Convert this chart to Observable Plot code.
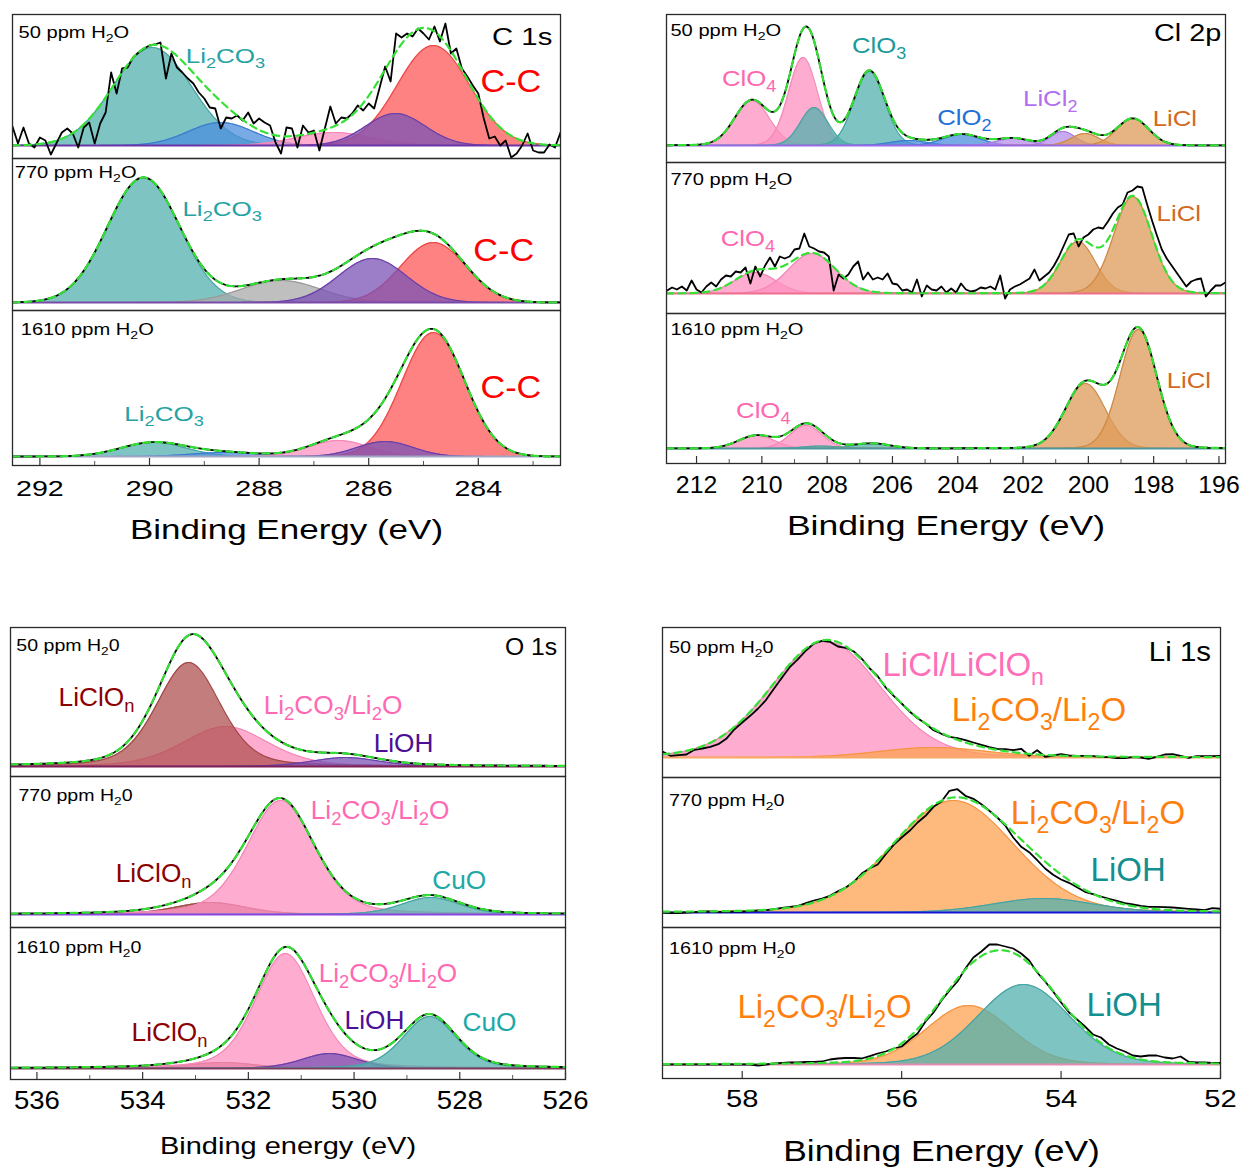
<!DOCTYPE html>
<html><head><meta charset="utf-8">
<script src="https://cdn.jsdelivr.net/npm/d3@7"></script>
<script src="https://cdn.jsdelivr.net/npm/@observablehq/plot@0.6"></script>
<style>
body{margin:0;background:#fff;font-family:"Liberation Sans",Arial,sans-serif}
#fig{position:relative;width:1253px;height:1168px;overflow:hidden;background:#fff}
</style></head><body><div id="fig"></div>
<script>
// ======================= DATA =======================
// Peak tables: [sample index, component, centre (eV), height (a.u.), FWHM (eV)]
// ---- C 1s ----
const C1S_RANGE = [292.5, 282.5];
const C1S_TICKS = [292, 290, 288, 286, 284];
const C1S_MINOR = [291, 289, 287, 285, 283];
const C1S_BACKGROUND = [13, 8, 9];
const C1S_PEAKS = [
  [0, "Li2CO3", 289.95, 98, 1.68], [0, "O-C=O", 288.7, 23, 1.4], [0, "C=O", 286.64, 13, 1.6],
  [0, "C-C", 284.82, 100, 1.55], [0, "C-O", 285.51, 32, 1.28],
  [1, "Li2CO3", 290.11, 125, 1.55], [1, "C-O-C", 287.6, 22, 1.7], [1, "C-C", 284.82, 60, 1.4], [1, "C-O", 285.93, 44, 1.46],
  [2, "Li2CO3", 289.93, 14, 1.4], [2, "O-C=O", 288.6, 4, 1.5], [2, "C=O", 286.55, 16, 1.3],
  [2, "C-C", 284.82, 124, 1.35], [2, "C-O", 285.7, 15, 1.2]
];
// measured counts, 50 ppm, from 292.5 eV in 0.1 eV steps
const C1S_50_COUNTS = [
  19, 2, 18, 2, -2, 8, 5, -9, 2, 13,
  17, 12, -2, 18, 23, 2, 22, 33, 73, 52,
  77, 78, 88, 93, 97, 100, 101, 103, 67, 92,
  78, 73, 67, 62, 53, 47, 38, 37, 17, 28,
  27, 30, 25, 33, 22, 27, 23, 20, 3, -8,
  18, 17, -2, 20, 13, 15, -5, 17, 39, 22,
  28, 27, 32, 40, 35, 42, 37, 58, 79, 64,
  112, 108, 112, 109, 117, 112, 106, 119, 104, 122,
  92, 97, 77, 69, 60, 52, 27, 7, 9, 0,
  5, -12, -8, 0, 12, -5, -7, -7, 1, -2, 13
];
const C1S_LABELS = [ // [sample, text, eV, height, anchor, kind]
  [0, "50 ppm H_2O", 292.39, 126, "start", "sample"],
  [0, "Li_2CO_3", 289.34, 102, "start", "Li2CO3"],
  [0, "C-C", 283.96, 77, "start", "C-C"],
  [0, "C 1s", 282.65, 121, "end", "panel"],
  [1, "770 ppm H_2O", 292.46, 138, "start", "sample"],
  [1, "Li_2CO_3", 289.4, 101, "start", "Li2CO3"],
  [1, "C-C", 284.09, 60, "start", "C-C"],
  [2, "1610 ppm H_2O", 292.35, 136, "start", "sample"],
  [2, "Li_2CO_3", 290.46, 51, "start", "Li2CO3"],
  [2, "C-C", 283.96, 78, "start", "C-C"]
];

// ---- Cl 2p ----
const CL2P_RANGE = [212.92, 195.8];
const CL2P_TICKS = [212, 210, 208, 206, 204, 202, 200, 198, 196];
const CL2P_MINOR = [211, 209, 207, 205, 203, 201, 199, 197];
const CL2P_BACKGROUND = [17, 20, 15];
const CL2P_PEAKS = [
  [0, "ClO4", 210.3, 45, 1.25], [0, "ClO4", 208.74, 88, 1.05], [0, "ClO3", 208.4, 38, 1.0],
  [0, "ClO3", 206.71, 74, 1.1], [0, "ClO2", 205.5, 5, 1.35], [0, "ClO2", 203.88, 11, 1.35],
  [0, "LiCl2", 202.3, 7, 1.2], [0, "LiCl2", 200.78, 14, 0.9], [0, "LiCl", 200.1, 12, 1.0], [0, "LiCl", 198.64, 27, 1.15],
  [1, "ClO4", 210.2, 21, 1.5], [1, "ClO4", 208.46, 40, 1.7], [1, "LiCl", 200.32, 52, 1.26], [1, "LiCl", 198.64, 97, 1.38],
  [2, "ClO4", 210.16, 13, 1.3], [2, "ClO4", 208.65, 23, 1.15], [2, "ClO3", 208.2, 2.5, 1.3], [2, "ClO3", 206.63, 5, 1.3],
  [2, "LiCl", 200.09, 65, 1.44], [2, "LiCl", 198.47, 119, 1.33]
];
// measured counts, 770 ppm, from 212.9 eV in 0.15 eV steps
const CL2P_770_COUNTS = [
  3, 6, 4, 7, 3, 13, 4, 1, 7, 11,
  7, 14, 18, 17, 22, 21, 26, 10, 27, 17,
  28, 36, 27, 37, 35, 37, 44, 45, 60, 47,
  45, 42, 41, 37, 3, 19, 15, 19, 27, 32,
  14, 21, 14, 16, 14, 20, 10, 9, 3, 4,
  1, 14, -3, 8, 4, 3, 7, 1, 5, 1,
  10, 4, 2, 3, 6, 5, 7, 4, 18, -5,
  4, 7, 9, 12, 15, 24, 13, 17, 21, 28,
  37, 48, 59, 60, 47, 56, 59, 64, 66, 65,
  72, 80, 86, 89, 101, 103, 107, 106, 89, 73,
  58, 44, 35, 28, 21, 14, 7, 12, 14, 15,
  -3, 3, 8, 8, 11
];
const CL2P_LABELS = [
  [0, "50 ppm H_2O", 212.8, 132, "start", "sample"],
  [0, "ClO_4", 211.22, 84, "start", "ClO4"],
  [0, "ClO_3", 207.24, 117, "start", "ClO3"],
  [0, "ClO_2", 204.63, 45, "start", "ClO2"],
  [0, "LiCl_2", 202.0, 64, "start", "LiCl2"],
  [0, "LiCl", 198.03, 44, "start", "LiCl"],
  [0, "Cl 2p", 195.93, 129, "end", "panel"],
  [1, "770 ppm H_2O", 212.8, 134, "start", "sample"],
  [1, "ClO_4", 211.26, 75, "start", "ClO4"],
  [1, "LiCl", 197.91, 100, "start", "LiCl"],
  [2, "1610 ppm H_2O", 212.8, 134, "start", "sample"],
  [2, "ClO_4", 210.79, 53, "start", "ClO4"],
  [2, "LiCl", 197.6, 83, "start", "LiCl"]
];

// ---- O 1s ----
const O1S_RANGE = [536.5, 526];
const O1S_TICKS = [536, 534, 532, 530, 528, 526];
const O1S_MINOR = [535, 533, 531, 529, 527];
const O1S_BACKGROUND = [10, 13, 11];
const O1S_PEAKS = [
  [0, "Li2CO3/Li2O", 532.43, 40, 1.9], [0, "LiClOn", 533.13, 104, 1.42], [0, "LiOH", 530.16, 9, 1.5],
  [1, "LiClOn", 532.72, 12, 1.6], [1, "Li2CO3/Li2O", 531.39, 114, 1.51], [1, "CuO", 528.55, 17, 1.3],
  [2, "LiClOn", 532.49, 6, 1.5], [2, "Li2CO3/Li2O", 531.3, 115, 1.33], [2, "LiOH", 530.46, 15, 1.25], [2, "CuO", 528.57, 52, 1.19]
];
const O1S_LABELS = [
  [0, "50 ppm H_20", 536.39, 131, "start", "sample"],
  [0, "LiClO_n", 535.59, 79, "start", "LiClOn"],
  [0, "Li_2CO_3/Li_2O", 531.71, 71, "start", "Li2CO3/Li2O"],
  [0, "LiOH", 529.63, 33, "start", "LiOH"],
  [0, "O 1s", 526.16, 129, "end", "panel"],
  [1, "770 ppm H_20", 536.35, 132, "start", "sample"],
  [1, "LiClO_n", 534.51, 54, "start", "LiClOn"],
  [1, "Li_2CO_3/Li_2O", 530.82, 117, "start", "Li2CO3/Li2O"],
  [1, "CuO", 528.52, 47, "start", "CuO"],
  [2, "1610 ppm H_20", 536.39, 132, "start", "sample"],
  [2, "LiClO_n", 534.21, 47, "start", "LiClOn"],
  [2, "Li_2CO_3/Li_2O", 530.67, 106, "start", "Li2CO3/Li2O"],
  [2, "LiOH", 530.18, 59, "start", "LiOH"],
  [2, "CuO", 527.95, 57, "start", "CuO"]
];

// ---- Li 1s ----
const LI1S_RANGE = [59, 52];
const LI1S_TICKS = [58, 56, 54, 52];
const LI1S_MINOR = [];
const LI1S_BACKGROUND = [20, 15, 14];
const LI1S_PEAKS = [
  [0, "LiCl/LiClOn", 56.95, 116, 1.63], [0, "Li2CO3/Li2O", 55.6, 10, 1.6],
  [1, "Li2CO3/Li2O", 55.35, 112, 1.8], [1, "LiOH", 54.22, 14, 1.5],
  [2, "Li2CO3/Li2O", 55.16, 59, 1.25], [2, "LiOH", 54.47, 80, 1.36]
];
// measured counts, from 59 eV in 0.1 eV steps
const LI1S_50_COUNTS = [
  6, 1.7, 2.3, 3, 7.7, 9, 10.7, 13.3, 18.7, 28,
  35, 41.7, 49, 57.7, 69, 80, 90.7, 98.3, 107, 114,
  116.7, 115.7, 111, 109.7, 106, 98.7, 89, 81.3, 70, 61.7,
  54, 46, 39.3, 34, 27.3, 23.7, 20.7, 19.3, 17.3, 15,
  12.7, 10.3, 8.7, 8.3, 7.3, 8.7, 1.7, 7.3, 0.7, 2,
  3.3, 2, 1.7, 1.7, 1.3, 0.7, 0.3, -0.7, -0.7, 0.3,
  0, -1.3, 0.7, 3, 3.3, 1.7, -0.3, 1.3, 1.3, 1.3,
  1.7
];
const LI1S_770_COUNTS = [
  0, -0.7, -0.7, 0, 0.3, 1, 1, 0.7, 0.7, 1,
  1, 1.3, 2, 2.3, 3.3, 4.7, 5.7, 6.7, 9.3, 12,
  14, 16.7, 21.3, 25, 30.7, 39, 44.3, 48, 58.3, 67.7,
  75, 81.7, 90, 96.7, 105.7, 111, 121.7, 123.3, 116.7, 113.7,
  108.3, 101.7, 95, 87, 75, 65.7, 60.3, 52.3, 44, 37.7,
  33, 29.7, 25.3, 20.7, 18.3, 16, 13.7, 11.7, 9.3, 8,
  6.7, 5.7, 5.7, 5.3, 5, 4.3, 3.7, 3, 2.3, 4.3,
  3.7
];
const LI1S_1610_COUNTS = [
  0, 0, 0, 0, 0, 0, 0, 0, 0, 0,
  0, 0, -1, 0, 1, 1.5, 2, 2, 2.5, 2.7,
  3, 5, 6, 6.5, 6.7, 6, 8.3, 11, 13, 16,
  18, 25, 31, 43, 52, 64, 74, 83, 96, 107,
  113, 120, 120, 118, 116, 111, 104, 92, 83, 73,
  62, 52, 45, 38, 30, 27, 20, 16, 13, 9,
  8, 9, 9, 7, 6, 8, 2.7, 2, 2, 1.7,
  1.5
];
const LI1S_LABELS = [
  [0, "50 ppm H_20", 58.92, 130, "start", "sample"],
  [0, "LiCl/LiClO_n", 56.24, 112, "start", "LiCl/LiClOn"],
  [0, "Li_2CO_3/Li_2O", 55.37, 67, "start", "Li2CO3/Li2O"],
  [0, "Li 1s", 52.12, 125, "end", "panel"],
  [1, "770 ppm H_20", 58.92, 127, "start", "sample"],
  [1, "Li_2CO_3/Li_2O", 54.63, 114, "start", "Li2CO3/Li2O"],
  [1, "LiOH", 53.63, 57, "start", "LiOH"],
  [2, "1610 ppm H_20", 58.92, 130, "start", "sample"],
  [2, "Li_2CO_3/Li_2O", 58.06, 71, "start", "Li2CO3/Li2O"],
  [2, "LiOH", 53.68, 73, "start", "LiOH"]
];

// ======================= STYLE / LAYOUT =======================
const SW = {
  teal: {fill: "#52b0ae", edge: "#47a4a2"}, blue: {fill: "#4b8ede", edge: "#3b7bd0"},
  pink: {fill: "#fd91c0", edge: "#f488b8"}, purple: {fill: "#7a52b6", edge: "#6a3fa8"},
  red: {fill: "#ff5858", edge: "#ee4848"}, gray: {fill: "#a9a9a9", edge: "#9a9a9a"},
  lavender: {fill: "#b68eeb", edge: "#a67ce0"}, amber: {fill: "#dd9b58", edge: "#cc8a48"},
  brown: {fill: "#b05252", edge: "#a24848"}, orange: {fill: "#fda252", edge: "#f59444"}
};
const C1S_STYLE = {
  "Li2CO3": {...SW.teal, text: "#25a3a3"}, "O-C=O": SW.blue, "C=O": SW.pink, "C-O": SW.purple,
  "C-C": {...SW.red, text: "#ff0000", fs: 32, st: 1.07}, "C-O-C": SW.gray
};
const CL2P_STYLE = {
  ClO4: {...SW.pink, text: "#ff66b0"}, ClO3: {...SW.teal, text: "#1a9a9a"}, ClO2: {...SW.blue, text: "#1f6fd8"},
  LiCl2: {...SW.lavender, text: "#b36ef0"}, LiCl: {...SW.amber, text: "#d2691e"}
};
const O1S_STYLE = {
  LiClOn: {...SW.brown, text: "#8b0000"}, "Li2CO3/Li2O": {...SW.pink, text: "#ff69b4"},
  LiOH: {...SW.purple, text: "#4b0f96"}, CuO: {...SW.teal, text: "#20a8a8"}
};
const LI1S_STYLE = {
  "LiCl/LiClOn": {...SW.pink, text: "#ff6eb8"}, "Li2CO3/Li2O": {...SW.orange, text: "#ff7f0e"},
  LiOH: {...SW.teal, text: "#138f8f"}
};
const LAYOUT = {
  c1s: {x0: 12, x1: 560, ys: [14, 158, 310, 465]},
  cl2p: {x0: 666, x1: 1225, ys: [14, 162, 313, 463]},
  o1s: {x0: 10, x1: 565, ys: [627, 776, 927, 1079]},
  li1s: {x0: 662, x1: 1220, ys: [627, 777, 927, 1078]}
};
const TEXT = {
  c1s: {tickFs: 22, tickSt: 1.3, tickPad: 14.7, titleFs: 28, titleSt: 1.25, titleDy: 65, sampleFs: 16.5, sampleSt: 1.22, labelFs: 20.5, labelSt: 1.27, panelFs: 24, panelSt: 1.22},
  cl2p: {tickFs: 23, tickSt: 1.08, tickPad: 13.2, titleFs: 28, titleSt: 1.27, titleDy: 63, sampleFs: 16.5, sampleSt: 1.22, labelFs: 23, labelSt: 1.12, panelFs: 24, panelSt: 1.2},
  o1s: {tickFs: 25.5, tickSt: 1.08, tickPad: 11.4, titleFs: 23, titleSt: 1.26, titleDy: 67, sampleFs: 16.3, sampleSt: 1.2, labelFs: 25, labelSt: 1.05, panelFs: 23.5, panelSt: 1.05},
  li1s: {tickFs: 23.3, tickSt: 1.25, tickPad: 12.2, titleFs: 30, titleSt: 1.18, titleDy: 73, sampleFs: 16.5, sampleSt: 1.2, labelFs: 33, labelSt: 1.0, panelFs: 28, panelSt: 1.05}
};

const PANELS = [
  {range: C1S_RANGE, ticks: C1S_TICKS, minor: C1S_MINOR, peaks: C1S_PEAKS, background: C1S_BACKGROUND, labels: C1S_LABELS,
   measured: [{ev0: 292.5, step: 0.1, counts: C1S_50_COUNTS}, null, null], title: "Binding Energy (eV)", mix: 0,
   style: C1S_STYLE, baseline: ["#6b35a5", "#7a4aa8", "#a0a8c4"], layout: LAYOUT.c1s, text: TEXT.c1s},
  {range: CL2P_RANGE, ticks: CL2P_TICKS, minor: CL2P_MINOR, peaks: CL2P_PEAKS, background: CL2P_BACKGROUND, labels: CL2P_LABELS,
   measured: [null, {ev0: 212.9, step: 0.15, counts: CL2P_770_COUNTS}, null], title: "Binding Energy (eV)", mix: 0.05,
   style: CL2P_STYLE, baseline: ["#9a6be6", "#ef6f8f", "#4f96a0"], layout: LAYOUT.cl2p, text: TEXT.cl2p},
  {range: O1S_RANGE, ticks: O1S_TICKS, minor: O1S_MINOR, peaks: O1S_PEAKS, background: O1S_BACKGROUND, labels: O1S_LABELS,
   measured: [null, null, null], title: "Binding energy (eV)", mix: 0.3,
   style: O1S_STYLE, baseline: ["#7d1f55", "#8a45e0", "#7d3a5a"], layout: LAYOUT.o1s, text: TEXT.o1s},
  {range: LI1S_RANGE, ticks: LI1S_TICKS, minor: LI1S_MINOR, peaks: LI1S_PEAKS, background: LI1S_BACKGROUND, labels: LI1S_LABELS,
   measured: [{ev0: 59, step: 0.1, counts: LI1S_50_COUNTS}, {ev0: 59, step: 0.1, counts: LI1S_770_COUNTS}, {ev0: 59, step: 0.1, counts: LI1S_1610_COUNTS}],
   title: "Binding Energy (eV)", mix: 0.12,
   style: LI1S_STYLE, baseline: ["#f7a868", "#1414d8", "#e58ab0"], layout: LAYOUT.li1s, text: TEXT.li1s}
];

// ======================= DRAW =======================
const NS = "http://www.w3.org/2000/svg";
function pv(e, c, h, w, m) { const t = (e - c) / w; return h * ((1 - m) * Math.exp(-4 * Math.LN2 * t * t) + m / (1 + 4 * t * t)); }

function subs(t) {
  const s = t.textContent;
  const g = t.closest("[font-size]");
  const fs = g ? parseFloat(g.getAttribute("font-size")) : 16;
  while (t.firstChild) t.removeChild(t.firstChild);
  let shifted = false;
  s.split(/_(.)/).forEach((p, i) => {
    if (!p) return;
    const ts = document.createElementNS(NS, "tspan");
    ts.textContent = p;
    if (i % 2) { ts.setAttribute("font-size", (fs * 0.7).toFixed(2)); ts.setAttribute("dy", (fs * 0.26).toFixed(2)); shifted = true; }
    else if (shifted) { ts.setAttribute("dy", (-fs * 0.26).toFixed(2)); shifted = false; }
    t.appendChild(ts);
  });
}
function widen(t, s) {
  if (s === 1) return;
  let X = +(t.getAttribute("x")) || 0;
  const list = t.transform && t.transform.baseVal;
  if (list && list.numberOfItems) { const m = list.consolidate().matrix; X += m.e; }
  const g = document.createElementNS(NS, "g");
  g.setAttribute("transform", `translate(${X},0) scale(${s},1) translate(${-X},0)`);
  t.parentNode.insertBefore(g, t);
  g.appendChild(t);
}

const FIG = document.getElementById("fig");
PANELS.forEach(P => {
  const L = P.layout, T = P.text, W = L.x1 - L.x0;
  const [hi, lo] = P.range;
  const n = Math.round((hi - lo) / 0.02);
  const grid = d3.range(n + 1).map(i => hi - i * 0.02);
  for (let s = 0; s < 3; s++) {
    const top = L.ys[s], H = L.ys[s + 1] - top, base = P.background[s], isBottom = s === 2;
    const peaks = P.peaks.filter(p => p[0] === s);
    const fit = grid.map(e => ({e, v: base + d3.sum(peaks, p => pv(e, p[2], p[3], p[4], P.mix))}));
    const M = P.measured[s];
    const meas = M ? M.counts.map((c, i) => ({e: M.ev0 - i * M.step, v: base + c})) : fit;
    const marks = [];
    const widths = new Map();
    peaks.forEach(p => {
      const st = P.style[p[1]];
      const comp = grid.map(e => ({e, v: base + pv(e, p[2], p[3], p[4], P.mix)}));
      marks.push(Plot.areaY(comp, {x: "e", y1: base, y2: "v", fill: st.fill, fillOpacity: 0.75, clip: true}));
      marks.push(Plot.lineY(comp, {x: "e", y: "v", stroke: st.edge, strokeWidth: 1.2, clip: true}));
    });
    marks.push(Plot.ruleY([base], {stroke: P.baseline[s], strokeWidth: 2.2, clip: true}));
    marks.push(Plot.line(meas, {x: "e", y: "v", stroke: "#000", strokeWidth: 1.8, clip: true}));
    marks.push(Plot.line(fit, {x: "e", y: "v", stroke: "#35e035", strokeWidth: 2.2, strokeDasharray: "7,5", clip: true}));
    P.labels.filter(l => l[0] === s).forEach(l => {
      let fs, st, color;
      if (l[5] === "sample") { fs = T.sampleFs; st = T.sampleSt; color = "#000"; }
      else if (l[5] === "panel") { fs = T.panelFs; st = T.panelSt; color = "#000"; }
      else { const cs = P.style[l[5]]; fs = cs.fs || T.labelFs; st = cs.st || T.labelSt; color = cs.text; }
      widths.set(l[1], st);
      marks.push(Plot.text([l], {x: d => d[2], y: d => d[3], text: d => d[1], textAnchor: l[4], lineAnchor: "middle", fill: color, fontSize: fs}));
    });
    marks.push(Plot.frame({stroke: "#2a2a2a", strokeWidth: 1.3}));
    if (isBottom) {
      P.ticks.forEach(v => widths.set(String(v), T.tickSt));
      widths.set(P.title, T.titleSt);
      marks.push(Plot.axisX({ticks: P.ticks, tickSize: 0, tickPadding: T.tickPad, fontSize: T.tickFs, tickFormat: d => String(d), label: null}));
      marks.push(Plot.ruleX(P.ticks, {x: d => d, y1: 0, y2: 7, stroke: "#333", strokeWidth: 1.2}));
      marks.push(Plot.ruleX(P.minor, {x: d => d, y1: 0, y2: 4, stroke: "#555", strokeWidth: 1}));
      marks.push(Plot.text([P.title], {text: d => d, frameAnchor: "bottom", lineAnchor: "middle", dy: T.titleDy, fontSize: T.titleFs, fill: "#000"}));
    }
    const mb = isBottom ? 95 : 1;
    const svg = Plot.plot({
      width: W + 2, height: H + 1 + mb,
      marginLeft: 1, marginRight: 1, marginTop: 1, marginBottom: mb,
      x: {domain: [hi, lo], axis: null},
      y: {domain: [0, H], axis: null},
      style: {background: "transparent", fontFamily: "Liberation Sans, Arial, Helvetica, sans-serif", overflow: "visible", color: "#000"},
      marks
    });
    svg.style.position = "absolute";
    svg.style.left = (L.x0 - 1) + "px";
    svg.style.top = (top - 1) + "px";
    FIG.appendChild(svg);
    Array.from(svg.querySelectorAll("text")).forEach(t => {
      const raw = t.textContent;
      if (!widths.has(raw)) return;
      if (raw.includes("_")) subs(t);
      widen(t, widths.get(raw));
    });
  }
});
</script></body></html>
